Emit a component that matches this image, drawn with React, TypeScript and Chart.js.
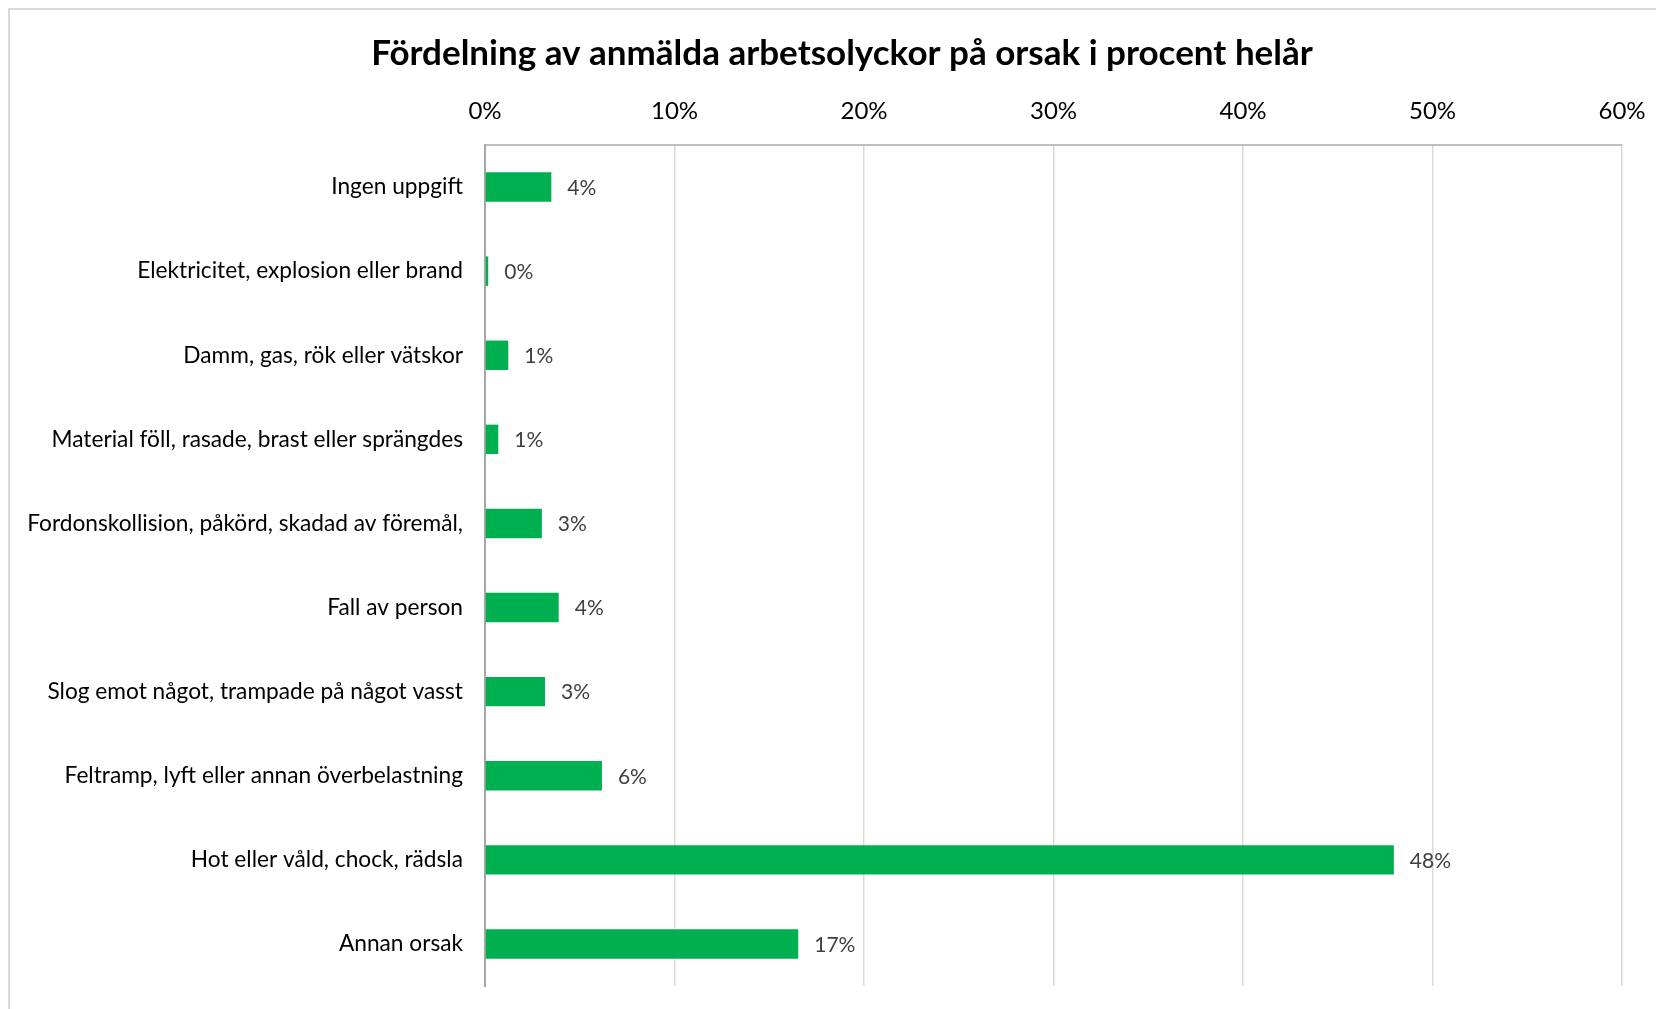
import React, { useEffect, useRef } from 'react';
import { Chart, registerables } from 'chart.js';

Chart.register(...registerables);

const titleText = 'Fördelning av anmälda arbetsolyckor på orsak i procent helår';

const categories = [
  'Ingen uppgift',
  'Elektricitet, explosion eller brand',
  'Damm, gas, rök eller vätskor',
  'Material föll, rasade, brast eller sprängdes',
  'Fordonskollision, påkörd, skadad av föremål,',
  'Fall av person',
  'Slog emot något, trampade på något vasst',
  'Feltramp, lyft eller annan överbelastning',
  'Hot eller våld, chock, rädsla',
  'Annan orsak',
];

const values = [3.5, 0.17, 1.23, 0.7, 3.0, 3.89, 3.17, 6.17, 47.96, 16.53];

const valueLabels = ['4%', '0%', '1%', '1%', '3%', '4%', '3%', '6%', '48%', '17%'];

const xMin = 0;
const xMax = 60;
const xStep = 10;

const FONT = 'Lato';

export default function App() {
  const ref = useRef<HTMLCanvasElement | null>(null);

  useEffect(() => {
    if (!ref.current) return;

    const framePlugin = {
      id: 'frame',
      beforeDraw(chart: any) {
        const ctx = chart.ctx;
        ctx.save();
        ctx.fillStyle = '#ffffff';
        ctx.fillRect(0, 0, chart.width, chart.height);
        ctx.strokeStyle = '#d9d9d9';
        ctx.lineWidth = 2;
        ctx.beginPath();
        ctx.moveTo(9, chart.height);
        ctx.lineTo(9, 9);
        ctx.lineTo(chart.width, 9);
        ctx.stroke();
        // title
        ctx.fillStyle = '#000000';
        ctx.font = `bold 35px ${FONT}`;
        ctx.textAlign = 'center';
        ctx.textBaseline = 'middle';
        ctx.fillText(titleText, 842, 54);
        ctx.restore();
      },
    };

    const dataLabelPlugin = {
      id: 'dataLabels',
      afterDatasetsDraw(chart: any) {
        const ctx = chart.ctx;
        const meta = chart.getDatasetMeta(0);
        ctx.save();
        ctx.font = `21px ${FONT}`;
        ctx.fillStyle = '#404040';
        ctx.textAlign = 'left';
        ctx.textBaseline = 'middle';
        meta.data.forEach((bar: any, i: number) => {
          ctx.fillText(valueLabels[i], bar.x + 16, bar.y + 1);
        });
        ctx.restore();
      },
    };

    const chart = new Chart(ref.current, {
      type: 'bar',
      data: {
        labels: categories,
        datasets: [
          {
            data: values,
            backgroundColor: '#00B050',
            borderWidth: 0,
            barPercentage: 0.35,
            categoryPercentage: 1,
          },
        ],
      },
      options: {
        indexAxis: 'y',
        animation: false,
        responsive: false,
        maintainAspectRatio: false,
        layout: { padding: { left: 0, right: 34, top: 74, bottom: 23 } },
        plugins: {
          legend: { display: false },
          tooltip: { enabled: false },
          title: { display: false },
        },
        scales: {
          x: {
            position: 'top',
            min: xMin,
            max: xMax,
            ticks: {
              stepSize: xStep,
              color: '#000000',
              font: { family: FONT, size: 24, lineHeight: 1.2 },
              padding: 19,
              callback: (v: any) => `${v}%`,
            },
            grid: { color: '#d9d9d9', lineWidth: 1.5, drawTicks: false },
            border: { display: true, color: '#bfbfbf', width: 2 },
            afterFit: (scale: any) => {
              scale.height = 145 - 74;
              scale.paddingLeft = 0;
              scale.paddingRight = 0;
            },
          },
          y: {
            ticks: {
              color: '#000000',
              font: { family: FONT, size: 22.7 },
              padding: 22,
            },
            grid: { display: false, drawTicks: false },
            border: { display: true, color: '#a6a6a6', width: 2 },
            afterFit: (scale: any) => {
              scale.width = 485;
              scale.paddingTop = 0;
              scale.paddingBottom = 0;
            },
          },
        },
      },
      plugins: [framePlugin, dataLabelPlugin],
    });

    return () => chart.destroy();
  }, []);

  return (
    <div style={{ position: 'absolute', left: 0, top: 0, width: 1656, height: 1009 }}>
      <canvas ref={ref} width={1656} height={1009} style={{ width: 1656, height: 1009 }} />
    </div>
  );
}
